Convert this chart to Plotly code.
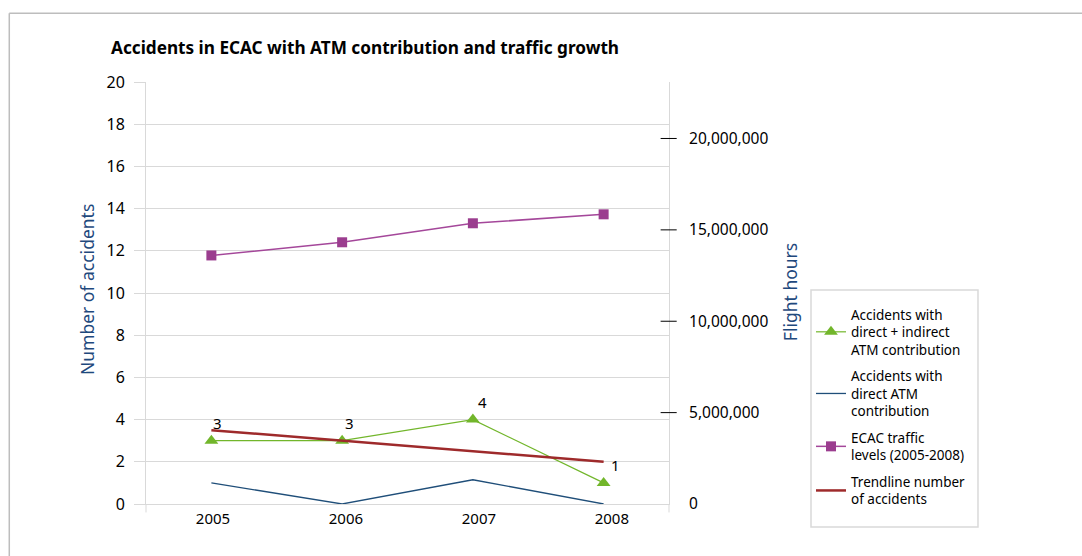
import plotly.graph_objects as go

# ---- data ----
years = ["2005", "2006", "2007", "2008"]
acc_direct_indirect = [3, 3, 4, 1]
acc_direct = [1, 0, 1.15, 0]
traffic_hours = [13600000, 14320000, 15360000, 15850000]
trendline = [3.5, 3.0, 2.5, 2.0]
data_labels = ["3", "3", "4", "1"]
right_ticks = [0, 5000000, 10000000, 15000000, 20000000]

FONT = "Noto Sans"
GRID = "#d9d9d9"
AXT = "#1f497d"

fig = go.Figure()

fig.add_trace(go.Scatter(
    x=years, y=acc_direct_indirect, mode="lines+markers",
    name="Accidents with<br>direct + indirect<br>ATM contribution",
    line=dict(color="#72b62b", width=1.2),
    marker=dict(symbol="triangle-up", size=12, color="#72b62b"),
    legendgroup="g1", xaxis="x", yaxis="y"))

fig.add_trace(go.Scatter(
    x=years, y=acc_direct, mode="lines",
    name="Accidents with<br>direct ATM<br>contribution",
    line=dict(color="#1f4e79", width=1.3),
    legendgroup="g2", xaxis="x", yaxis="y"))

fig.add_trace(go.Scatter(
    x=years, y=traffic_hours, mode="lines+markers",
    name="ECAC traffic<br>levels (2005-2008)",
    line=dict(color="#a4479a", width=1.5),
    marker=dict(symbol="square", size=10, color="#9b3d8f"),
    legendgroup="g3", xaxis="x", yaxis="y2"))

fig.add_trace(go.Scatter(
    x=years, y=trendline, mode="lines",
    name="Trendline number<br>of accidents",
    line=dict(color="#9e2a2b", width=2.5),
    legendgroup="g4", xaxis="x", yaxis="y"))

# invisible trace registering the categories on the label axis
fig.add_trace(go.Scatter(
    x=years, y=acc_direct_indirect, mode="markers", marker=dict(opacity=0),
    showlegend=False, hoverinfo="skip", xaxis="x2", yaxis="y"))

annotations = [
    dict(text="Number of accidents", xref="paper", yref="paper", x=-0.1128, y=0.507,
         textangle=-90, showarrow=False, xanchor="center", yanchor="middle",
         font=dict(size=17.5, color=AXT, family=FONT)),
    dict(text="Flight hours", xref="paper", yref="paper", x=1.2314, y=0.502,
         textangle=-90, showarrow=False, xanchor="center", yanchor="middle",
         font=dict(size=17.5, color=AXT, family=FONT)),
]
# data labels above the green points (category index on the label axis)
for i, (val, lab) in enumerate(zip(acc_direct_indirect, data_labels)):
    annotations.append(dict(text=lab, x=i, y=val, xref="x2", yref="y",
                            showarrow=False, xshift=4, yshift=18,
                            font=dict(size=15, color="#000000", family=FONT)))

shapes = []
# right axis tick marks (cross the axis line)
for v in right_ticks[1:]:
    shapes.append(dict(type="line", xref="paper", yref="y2", x0=0.984, x1=1.0147,
                       y0=v, y1=v, line=dict(color="#000000", width=1)))
# axis line extensions below the x axis
for xp in (0, 1):
    shapes.append(dict(type="line", xref="paper", yref="paper", x0=xp, x1=xp,
                       y0=0, y1=-0.02, line=dict(color=GRID, width=1)))
# legend frame
shapes.append(dict(type="rect", xref="paper", yref="paper", x0=1.2715, x1=1.5908,
                   y0=-0.0545, y1=0.5071, line=dict(color=GRID, width=1.5)))
# outer frame (top and left)
shapes.append(dict(type="line", xref="paper", yref="paper", x0=-0.2614, x1=2.0,
                   y0=1.1628, y1=1.1628, line=dict(color="#bdbdbd", width=1.5)))
shapes.append(dict(type="line", xref="paper", yref="paper", x0=-0.2614, x1=-0.2614,
                   y0=1.1628, y1=-0.3, line=dict(color="#bdbdbd", width=1.5)))

fig.update_layout(
    width=1082, height=556,
    margin=dict(l=146, r=413, t=82, b=52),
    paper_bgcolor="white", plot_bgcolor="white",
    font=dict(family=FONT, size=15, color="#000000"),
    title=dict(text="<b>Accidents in ECAC with ATM contribution and traffic growth</b>",
               x=111 / 1082, xref="container", xanchor="left",
               y=1 - 48 / 556, yref="container", yanchor="middle",
               font=dict(size=17.2, family=FONT, color="#000000")),
    xaxis=dict(type="category", range=[-0.5, 3.5], showticklabels=False, ticks="",
               showgrid=False, showline=True, linecolor=GRID, linewidth=1,
               zeroline=False, anchor="y"),
    xaxis2=dict(type="category", overlaying="x", anchor="y", side="bottom",
                range=[-0.504, 3.43], showgrid=False, showline=False, ticks="",
                zeroline=False, tickfont=dict(size=15), ticklabelstandoff=4),
    yaxis=dict(range=[0, 20], dtick=2, tick0=0, showgrid=True, gridcolor=GRID, gridwidth=1,
               showline=True, linecolor=GRID, linewidth=1, ticks="outside", ticklen=11,
               tickcolor=GRID, zeroline=False, tickfont=dict(size=16),
               ticklabelstandoff=6),
    yaxis2=dict(overlaying="y", side="right", anchor="x", range=[0, 23090000],
                tickmode="array", tickvals=right_ticks, tickformat=",",
                showgrid=False, showline=True, linecolor=GRID, linewidth=1,
                ticks="", zeroline=False, tickfont=dict(size=15.5), ticklabelstandoff=16),
    legend=dict(x=1.2715, y=0.4858, xanchor="left", yanchor="top",
                borderwidth=0, bgcolor="rgba(0,0,0,0)",
                font=dict(size=13.5, family=FONT, color="#000000"),
                tracegroupgap=6, itemwidth=30),
    shapes=shapes,
    annotations=annotations,
    showlegend=True,
)

fig.write_html("out.html", config={"displayModeBar": False},
               post_script="document.body.style.margin='0';")
